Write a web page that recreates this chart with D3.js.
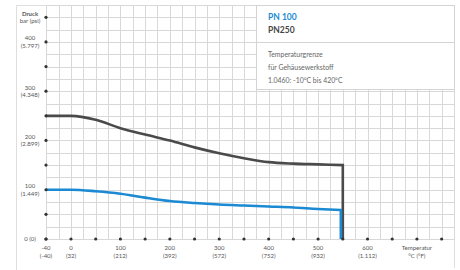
<!DOCTYPE html>
<html>
<head>
<meta charset="utf-8">
<script src="https://cdn.jsdelivr.net/npm/d3@7"></script>
<style>
  body { margin: 0; background: #fff; }
  svg { display: block; font-family: Lato, 'Open Sans', sans-serif; }
</style>
</head>
<body>
<div id="chart"></div>
<script>
// temperature (°C) / pressure (bar)
const temps_pn250 = [-40, 0, 50, 100, 150, 200, 250, 300, 350, 400, 450, 500, 550];
const bar_pn250 = [250, 250, 242, 225, 212, 200, 186, 174, 164, 156, 153, 151.5, 150];
const temps_pn100 = [-40, 0, 50, 100, 150, 200, 250, 300, 350, 400, 450, 500, 546];
const bar_pn100 = [100, 100, 97, 92, 84, 77, 73, 70, 68, 66, 64, 61, 59];

const x_dots = [-40, 0, 50, 100, 150, 200, 250, 300, 350, 400, 450, 500, 550, 600, 650, 700, 750];
const x_labels = [
  [-40, '-40', '(-40)'], [0, '0', '(32)'], [100, '100', '(212)'], [200, '200', '(392)'],
  [300, '300', '(572)'], [400, '400', '(752)'], [500, '500', '(932)'], [600, '600', '(1.112)'],
  [700, 'Temperatur', '°C (°F)'],
];
const y_dots = [0, 50, 100, 150, 200, 250, 300, 350, 400, 450];
const y_labels = [
  [100, '100', '(1.449)'], [200, '200', '(2.899)'], [300, '300', '(4.348)'],
  [400, '400', '(5.797)'], [450, 'Druck', 'bar (psi)'],
];
const legend_items = [['PN 100', '#1b8ad3'], ['PN250', '#454545']];
const note_lines = ['Temperaturgrenze', 'für Gehäusewerkstoff', '1.0460: -10°C bis 420°C'];

const width = 460, height = 270;
const svg = d3.select('#chart').append('svg').attr('width', width).attr('height', height);

// -40 sits one full step left of 0, so the scale is piecewise
const x = d3.scaleLinear().domain([-40, 0, 775]).range([46, 71, 454]);
const y = d3.scaleLinear().domain([0, 475]).range([239, 5]);

const grid_color = '#d8d8d8';

// outer frame
svg.append('path')
  .attr('d', `M16.5,270V5.5H${x(775) + 0.5}V268`)
  .attr('fill', 'none')
  .attr('stroke', '#dedede');

// grid
const x_grid = [-40, -20].concat(d3.range(0, 776, 25));
const y_grid = d3.range(0, 476, 25);
const grid = svg.append('g').attr('stroke', grid_color).attr('shape-rendering', 'crispEdges');
grid.selectAll('.vx').data(x_grid).join('line')
  .attr('x1', d => Math.round(x(d)) + 0.5).attr('x2', d => Math.round(x(d)) + 0.5)
  .attr('y1', y(475)).attr('y2', y(0));
grid.selectAll('.hy').data(y_grid).join('line')
  .attr('y1', d => Math.round(y(d)) + 0.5).attr('y2', d => Math.round(y(d)) + 0.5)
  .attr('x1', x(-40)).attr('x2', x(775));

// legend box covering the upper right of the grid
const box = svg.append('g');
box.append('rect')
  .attr('x', Math.round(x(375)) + 0.5).attr('y', Math.round(y(475)) + 0.5)
  .attr('width', Math.round(x(775)) - Math.round(x(375)))
  .attr('height', Math.round(y(300)) - Math.round(y(475)) - 2)
  .attr('fill', '#fff').attr('stroke', '#d4d4d4');
box.append('line')
  .attr('x1', Math.round(x(375)) + 0.5).attr('x2', Math.round(x(775)) + 0.5)
  .attr('y1', Math.round(y(400)) + 0.5).attr('y2', Math.round(y(400)) + 0.5)
  .attr('stroke', '#d4d4d4');
box.selectAll('.leg').data(legend_items).join('text')
  .attr('x', 268).attr('y', (d, i) => 20 + i * 13)
  .attr('font-size', 8.5).attr('font-weight', 'bold')
  .attr('fill', d => d[1])
  .text(d => d[0]);
box.selectAll('.note').data(note_lines).join('text')
  .attr('x', 268).attr('y', (d, i) => 56.5 + i * 13.3)
  .attr('font-size', 6.9).attr('fill', '#666')
  .text(d => d);

// curves
const line = d3.line().x(d => x(d[0])).y(d => y(d[1])).curve(d3.curveMonotoneX);
function draw_series(temps, vals, color) {
  const pts = temps.map((t, i) => [t, vals[i]]);
  const last = pts[pts.length - 1];
  svg.append('path')
    .attr('d', line(pts) + `L${x(last[0])},${y(0)}`)
    .attr('fill', 'none')
    .attr('stroke', color)
    .attr('stroke-width', 2.6)
    .attr('stroke-linejoin', 'miter');
}
draw_series(temps_pn250, bar_pn250, '#4a4a4a');
draw_series(temps_pn100, bar_pn100, '#1b8ad3');

// axis dots
svg.selectAll('.xdot').data(x_dots).join('circle')
  .attr('cx', d => x(d)).attr('cy', y(0)).attr('r', 1.6).attr('fill', '#333');
svg.selectAll('.ydot').data(y_dots).join('circle')
  .attr('cx', x(-40)).attr('cy', d => y(d)).attr('r', 1.6).attr('fill', '#333');

// axis labels
const lab = svg.append('g').attr('font-size', 6).attr('fill', '#555').attr('text-anchor', 'middle');
y_labels.forEach(([v, a, b]) => {
  const t = lab.append('text').attr('x', 30).attr('y', y(v) - 1.5);
  if (v === 450) t.attr('font-weight', 'bold');
  t.text(a);
  lab.append('text').attr('x', 30).attr('y', y(v) + 5.8).text(b);
});
lab.append('text').attr('x', 30).attr('y', y(0) + 2).text('0 (0)');
x_labels.forEach(([v, a, b]) => {
  lab.append('text').attr('x', x(v)).attr('y', 250).text(a);
  lab.append('text').attr('x', x(v)).attr('y', 258).text(b);
});
</script>
</body>
</html>
